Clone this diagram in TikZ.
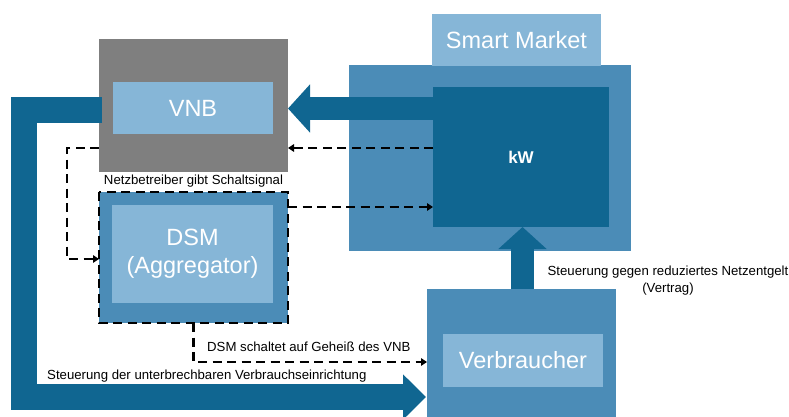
\documentclass[tikz,border=0pt]{standalone}
\usepackage{fontspec}
\setmainfont{Liberation Sans}
\usetikzlibrary{arrows.meta}
\definecolor{darkb}{RGB}{16,102,145}
\definecolor{midb}{RGB}{75,140,183}
\definecolor{lightb}{RGB}{134,182,215}
\definecolor{grayb}{RGB}{127,127,127}
\tikzset{
  box/.style={rectangle, inner sep=0pt, outer sep=0pt, draw=none},
  bigtext/.style={text=white, font=\fontsize{23.5}{28}\selectfont, align=center},
  smalltext/.style={inner sep=0pt, font=\fontsize{13.2}{16.5}\selectfont, align=center},
  blockarrow/.style={draw=darkb, line width=#1, line join=miter, line cap=butt},
  dashconn/.style={draw=black, line width=2.7pt, dash pattern=on 9pt off 5.5pt, -{Triangle[length=6pt,width=7.5pt]}},
}
\begin{document}
\begin{tikzpicture}[x=1pt,y=-1pt]
\useasboundingbox (0,0) rectangle (789,417);
\fill[white] (0,0) rectangle (789,417);
% Smart market
\node[box, fill=midb, minimum width=282pt, minimum height=186pt] (smouter) at (490,158) {};
\node[box, fill=lightb, minimum width=169pt, minimum height=52pt, bigtext] (smlabel) at (516.5,40) {Smart Market};
\node[box, fill=darkb, minimum width=176pt, minimum height=140pt, text=white, font=\fontsize{17}{20}\selectfont\bfseries] (kw) at (521,157) {kW};
% VNB
\node[box, fill=grayb, minimum width=189pt, minimum height=133pt] (vnbouter) at (193.5,105.5) {};
\node[box, fill=lightb, minimum width=160pt, minimum height=52pt, bigtext] (vnb) at (193,108) {VNB};
% DSM
\node[box, fill=midb, minimum width=189pt, minimum height=131pt] (dsmouter) at (193.5,257.5) {};
\node[box, fill=lightb, minimum width=161pt, minimum height=98pt, bigtext] (dsm) at (192.5,254) {DSM\\(Aggregator)};
\draw[line width=2.7pt, dash pattern=on 9pt off 5.5pt] (dsmouter.north west) rectangle (dsmouter.south east);
% Verbraucher
\node[box, fill=midb, minimum width=189pt, minimum height=128pt] (vbouter) at (521.5,353) {};
\node[box, fill=lightb, minimum width=160pt, minimum height=53pt, bigtext] (vb) at (523,360.5) {Verbraucher};
% block arrows
\coordinate (lstart) at ([xshift=3pt]vnbouter.west |- 0,110.5);
\draw[blockarrow=26pt, -{Triangle[length=23pt,width=44pt]}] (lstart) -- (23.5,110.5) -- (23.5,397) -- ([xshift=-1pt]vbouter.west |- 0,397);
\draw[blockarrow=23pt, -{Triangle[length=22pt,width=47pt]}] (kw.west |- 0,108.5) -- (vnbouter.east |- 0,108.5);
\draw[blockarrow=23pt, -{Triangle[length=22pt,width=47pt]}] ([xshift=1pt]vbouter.north) -- ([xshift=1pt]vbouter.north |- kw.south);
% dashed connectors
\draw[dashconn] (kw.west |- 0,148) -- (vnbouter.east |- 0,148);
\draw[dashconn] (vnbouter.west |- 0,148) -- (67,148) -- (67,259) -- (dsmouter.west |- 0,259);
\draw[dashconn] (dsmouter.east |- 0,207) -- (kw.west |- 0,207);
\draw[dashconn] (dsmouter.south) -- (193.5,362) -- (vbouter.west |- 0,362);
% labels
\node[smalltext] (l1) at (193.5,181) {Netzbetreiber gibt Schaltsignal};
\node[smalltext, anchor=west] (l2) at (207,347) {DSM schaltet auf Geheiß des VNB};
\node[smalltext, anchor=west] (l3) at (47,376) {Steuerung der unterbrechbaren Verbrauchseinrichtung};
\node[smalltext] (l4) at (668,280.5) {Steuerung gegen reduziertes Netzentgelt\\(Vertrag)};
\end{tikzpicture}
\end{document}
